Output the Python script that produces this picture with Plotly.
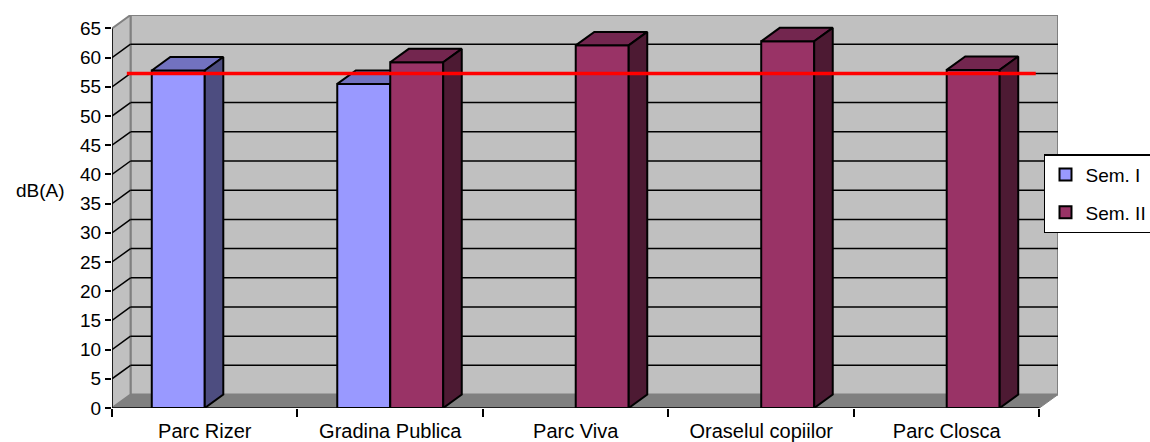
import plotly.graph_objects as go

# Noise measurements per location, two semesters (dB(A))
categories = ["Parc Rizer", "Gradina Publica", "Parc Viva", "Oraselul copiilor", "Parc Closca"]
sem1_x = [0, 1]
sem1_values = [57.8, 55.5]
sem2_x = [1, 2, 3, 4]
sem2_values = [59.2, 62.1, 62.8, 57.9]
limit_value = 55
y_ticks = list(range(0, 70, 5))

# 3D look: depth offset of the box in axis units
DX = 0.1
DY = 2.3
BAR_W = 0.2856
Y_MAX = 65

FONT = "Arial, Liberation Sans, sans-serif"
WALL = "#C0C0C0"
WALL_EDGE = "#808080"
FLOOR = "#808080"

SEM1 = dict(front="#9999FF", top="#7272C0", side="#4D4D80")
SEM2 = dict(front="#993366", top="#73264F", side="#4D1A33")
EDGE_W = 2


def faces(xs, vals, offset):
    """Top and side polygons of each column, from its value."""
    tx, ty, sx, sy = [], [], [], []
    for x, v in zip(xs, vals):
        x0 = x + offset
        x1 = x0 + BAR_W
        tx += [x0, x0 + DX, x1 + DX, x1, x0, None]
        ty += [v, v + DY, v + DY, v, v, None]
        sx += [x1, x1 + DX, x1 + DX, x1, x1, None]
        sy += [0, DY, v + DY, v, 0, None]
    return tx, ty, sx, sy


fig = go.Figure()

# Sem. I on the base subplot
fig.add_trace(go.Bar(
    x=sem1_x, y=sem1_values, name="Sem. I", width=BAR_W, offset=-BAR_W,
    marker=dict(color=SEM1["front"], line=dict(color="black", width=EDGE_W)),
    legendgroup="a", xaxis="x", yaxis="y",
))
tx, ty, sx, sy = faces(sem1_x, sem1_values, -BAR_W)
fig.add_trace(go.Scatter(x=tx, y=ty, fill="toself", fillcolor=SEM1["top"], mode="lines",
                         line=dict(color="black", width=EDGE_W), showlegend=False, hoverinfo="skip"))
fig.add_trace(go.Scatter(x=sx, y=sy, fill="toself", fillcolor=SEM1["side"], mode="lines",
                         line=dict(color="black", width=EDGE_W), showlegend=False, hoverinfo="skip"))

# Sem. II on an overlaid subplot so its columns sit in front of Sem. I
fig.add_trace(go.Bar(
    x=sem2_x, y=sem2_values, name="Sem. II", width=BAR_W, offset=0,
    marker=dict(color=SEM2["front"], line=dict(color="black", width=EDGE_W)),
    legendgroup="b", xaxis="x2", yaxis="y2",
))
tx, ty, sx, sy = faces(sem2_x, sem2_values, 0)
fig.add_trace(go.Scatter(x=tx, y=ty, fill="toself", fillcolor=SEM2["top"], mode="lines",
                         line=dict(color="black", width=EDGE_W), showlegend=False, hoverinfo="skip",
                         xaxis="x2", yaxis="y2"))
fig.add_trace(go.Scatter(x=sx, y=sy, fill="toself", fillcolor=SEM2["side"], mode="lines",
                         line=dict(color="black", width=EDGE_W), showlegend=False, hoverinfo="skip",
                         xaxis="x2", yaxis="y2"))

# Limit line drawn on the back wall
fig.add_trace(go.Scatter(x=[-0.42, 4.48], y=[limit_value + DY] * 2, mode="lines",
                         line=dict(color="#FF0000", width=3.5), showlegend=False, hoverinfo="skip",
                         xaxis="x2", yaxis="y2"))

n = len(categories)
xl, xr = -0.5, n - 0.5

shapes = [
    # back wall
    dict(type="rect", x0=xl + DX, x1=xr + DX, y0=DY, y1=Y_MAX + DY,
         fillcolor=WALL, line=dict(color=WALL_EDGE, width=2), layer="below"),
    # left wall
    dict(type="path", path=f"M {xl},0 L {xl + DX},{DY} L {xl + DX},{Y_MAX + DY} L {xl},{Y_MAX} Z",
         fillcolor=WALL, line=dict(color=WALL_EDGE, width=2), layer="below"),
    # floor
    dict(type="path", path=f"M {xl},0 L {xl + DX},{DY} L {xr + DX},{DY} L {xr},0 Z",
         fillcolor=FLOOR, line=dict(color=FLOOR, width=1), layer="below"),
]
for v in y_ticks[1:-1]:
    shapes.append(dict(type="line", x0=xl + DX, x1=xr + DX, y0=v + DY, y1=v + DY,
                       line=dict(color="black", width=1.5), layer="below"))
    shapes.append(dict(type="line", x0=xl, x1=xl + DX, y0=v, y1=v + DY,
                       line=dict(color="black", width=1.5), layer="below"))
# front axis lines
shapes.append(dict(type="line", x0=xl, x1=xr, y0=0, y1=0, line=dict(color="black", width=1.5)))
shapes.append(dict(type="line", x0=xl, x1=xl, y0=0, y1=Y_MAX, line=dict(color="black", width=1.5)))

x_range = [xl, xr + DX]
y_range = [0, Y_MAX + DY]

fig.update_layout(
    width=1150, height=442,
    margin=dict(l=112, r=92, t=15, b=34, autoexpand=False),
    paper_bgcolor="white", plot_bgcolor="rgba(0,0,0,0)",
    font=dict(family=FONT, size=20, color="black"),
    barmode="overlay",
    shapes=shapes,
    xaxis=dict(
        range=x_range, tickmode="array", tickvals=list(range(n)), ticktext=categories,
        ticks="outside", ticklen=5, tickcolor="rgba(0,0,0,0)",
        tickfont=dict(family=FONT, size=20),
        showgrid=False, zeroline=False, showline=False, fixedrange=True,
        minor=dict(tickmode="array", tickvals=[i - 0.5 for i in range(n + 1)],
                   ticks="outside", ticklen=8, tickwidth=1.5, tickcolor="black", showgrid=False),
    ),
    yaxis=dict(
        range=y_range, tickmode="array", tickvals=y_ticks,
        ticks="outside", ticklen=6, tickwidth=1.5, tickcolor="black",
        tickfont=dict(family=FONT, size=19),
        showgrid=False, zeroline=False, showline=False, fixedrange=True,
    ),
    xaxis2=dict(range=x_range, overlaying="x", anchor="y2", visible=False, fixedrange=True),
    yaxis2=dict(range=y_range, overlaying="y", anchor="x2", visible=False, fixedrange=True),
    legend=dict(
        x=0.9852, y=0.646, xanchor="left", yanchor="top",
        bgcolor="white", bordercolor="black", borderwidth=1.5,
        font=dict(family=FONT, size=19), tracegroupgap=10, itemwidth=30,
    ),
    annotations=[dict(text="dB(A)", xref="paper", yref="paper", x=-0.0761, y=0.5547,
                      xanchor="center", yanchor="middle", showarrow=False,
                      font=dict(family=FONT, size=19))],
)

fig.write_html("out.html")
